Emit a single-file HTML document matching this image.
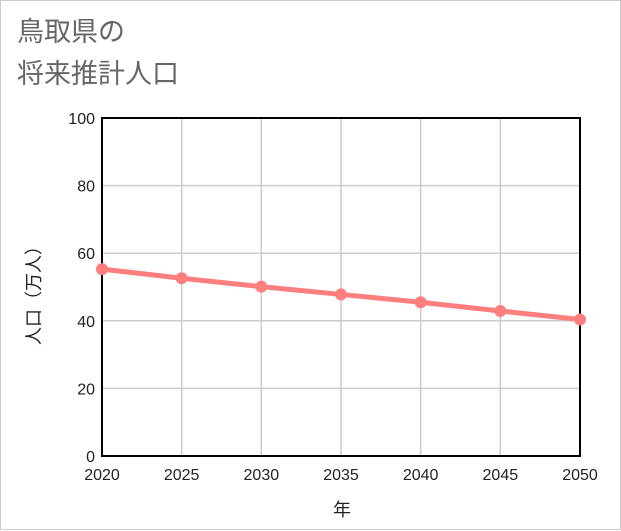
<!DOCTYPE html>
<html><head><meta charset="utf-8"><style>
body{margin:0;background:#fff}
#wrap{position:relative;width:619px;height:528px;border:1px solid #ccc;background:#fff;font-family:"Liberation Sans","Noto Sans CJK JP",sans-serif}
.t{position:absolute;left:16px;font-size:27px;line-height:30px;color:#666}
svg{position:absolute;left:0;top:0}
</style></head><body>
<div id="wrap">
<div class="t" style="top:16px">鳥取県の</div>
<div class="t" style="top:58px">将来推計人口</div>
<svg id="c" width="621" height="530"></svg>
</div>
<script>
const years=[2020,2025,2030,2035,2040,2045,2050];
const population=[55.3,52.6,50.1,47.8,45.5,42.9,40.4];
const yTicks=[0,20,40,60,80,100];
const L=101,R=579,T=117,B=455;
const sx=v=>L+(v-2020)/30*(R-L);
const sy=v=>B-v/100*(B-T);
const s=document.getElementById('c');const NS='http://www.w3.org/2000/svg';
function mk(t,a,p){const e=document.createElementNS(NS,t);for(const k in a)e.setAttribute(k,a[k]);(p||s).appendChild(e);return e;}
years.forEach(y=>{const e=mk('line',{x1:sx(y),x2:sx(y),y1:T,y2:B,stroke:'#ccc','stroke-width':1.5});


const t=mk('text',{x:sx(y),y:479,'text-anchor':'middle','font-size':16,fill:'#222'});t.textContent=y;

});
yTicks.forEach(v=>{const e=mk('line',{x1:L,x2:R,y1:sy(v),y2:sy(v),stroke:'#ccc','stroke-width':1.5});


const t=mk('text',{x:94,y:sy(v)+6,'text-anchor':'end','font-size':16,fill:'#222'});t.textContent=v;

});
const f=mk('rect',{x:L,y:T,width:R-L,height:B-T,fill:'none',stroke:'#000','stroke-width':2});


const pl=mk('polyline',{points:years.map((y,i)=>sx(y)+','+sy(population[i])).join(' '),fill:'none',stroke:'#ff7f7f','stroke-width':5});


years.forEach((y,i)=>{const c=mk('circle',{cx:sx(y),cy:sy(population[i]),r:6,fill:'#ff7f7f'});

});
const xt=mk('text',{x:341,y:515,'text-anchor':'middle','font-size':18,fill:'#222'});xt.textContent='年';


const yt=mk('text',{x:0,y:0,'text-anchor':'middle','font-size':18,fill:'#222',transform:'translate(39,290) rotate(-90)'});yt.textContent='人口（万人）';


</script>
</body></html>
